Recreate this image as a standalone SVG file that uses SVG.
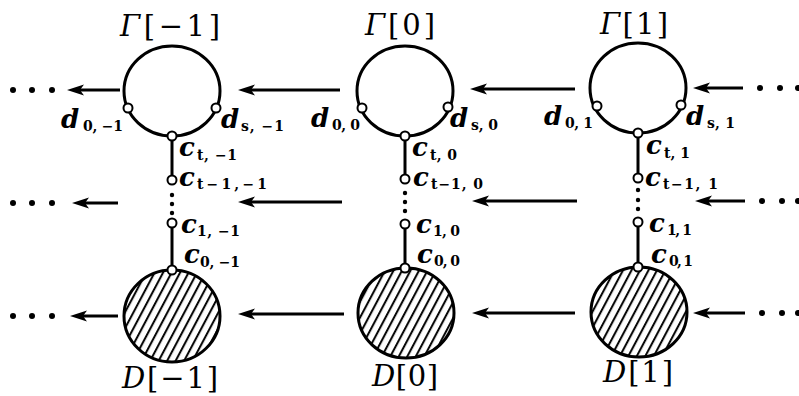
<svg xmlns="http://www.w3.org/2000/svg" width="799" height="396" viewBox="0 0 799 396">
<style>
.ring{fill:none;stroke:#000;stroke-width:3}
.disk{fill:url(#hatch);stroke:#000;stroke-width:3}
.pt{fill:#fff;stroke:#000;stroke-width:2}
.ln{stroke:#000;stroke-width:3;fill:none}
.ar{stroke:#000;stroke-width:3;fill:none;marker-end:url(#ah)}
.dot{fill:#000}
.m{font-family:"DejaVu Serif",serif;font-style:italic;font-weight:bold;font-size:26px;fill:#000}
.s{font-family:"DejaVu Serif",serif;font-weight:bold;font-size:14px;fill:#000}
.g{font-family:"DejaVu Serif",serif;font-size:29px;fill:#000}
.g .i{font-style:italic}
</style>
<defs>
<pattern id="hatch" patternUnits="userSpaceOnUse" width="7.5" height="10" patternTransform="rotate(28)">
<line x1="2" y1="-1" x2="2" y2="11" stroke="#000" stroke-width="2"/>
</pattern>
<marker id="ah" markerUnits="userSpaceOnUse" markerWidth="17" markerHeight="12" viewBox="0 -6 17 12" refX="6" refY="0" orient="auto">
<path d="M17,0 L0,-5.5 L4,0 L0,5.5 Z" fill="#000"/>
</marker>
</defs>

<g id="connectors">
<line class="ar" x1="120" y1="90" x2="78" y2="90"/>
<line class="ar" x1="340" y1="90" x2="249" y2="90"/>
<line class="ar" x1="575" y1="89" x2="481" y2="89"/>
<line class="ar" x1="743" y1="88" x2="704" y2="88"/>
<line class="ar" x1="118" y1="203" x2="83" y2="203"/>
<line class="ar" x1="342" y1="202" x2="249" y2="202"/>
<line class="ar" x1="577" y1="201" x2="483" y2="201"/>
<line class="ar" x1="745" y1="201" x2="706" y2="201"/>
<line class="ar" x1="118" y1="316" x2="81" y2="316"/>
<line class="ar" x1="344" y1="314" x2="249" y2="314"/>
<line class="ar" x1="575" y1="313" x2="483" y2="313"/>
<line class="ar" x1="745" y1="313" x2="704" y2="313"/>
<circle class="dot" cx="13" cy="90" r="3"/><circle class="dot" cx="32" cy="90" r="3"/><circle class="dot" cx="52" cy="90" r="3"/>
<circle class="dot" cx="13" cy="203" r="3"/><circle class="dot" cx="32" cy="203" r="3"/><circle class="dot" cx="52" cy="203" r="3"/>
<circle class="dot" cx="13" cy="316" r="3"/><circle class="dot" cx="32" cy="316" r="3"/><circle class="dot" cx="52" cy="316" r="3"/>
<circle class="dot" cx="760" cy="88" r="3"/><circle class="dot" cx="780" cy="88" r="3"/><circle class="dot" cx="798" cy="88" r="3"/>
<circle class="dot" cx="762" cy="201" r="3"/><circle class="dot" cx="782" cy="201" r="3"/><circle class="dot" cx="798" cy="201" r="3"/>
<circle class="dot" cx="762" cy="313" r="3"/><circle class="dot" cx="782" cy="313" r="3"/><circle class="dot" cx="798" cy="313" r="3"/>
<line class="ln" x1="172" y1="136" x2="172" y2="180"/>
<circle class="dot" cx="172" cy="195" r="2.2"/><circle class="dot" cx="172" cy="204" r="2.2"/><circle class="dot" cx="172" cy="213" r="2.2"/>
<line class="ln" x1="172" y1="223" x2="172" y2="270"/>
<line class="ln" x1="405" y1="136" x2="405" y2="179"/>
<circle class="dot" cx="405" cy="193" r="2.2"/><circle class="dot" cx="405" cy="202" r="2.2"/><circle class="dot" cx="405" cy="211" r="2.2"/>
<line class="ln" x1="405" y1="224" x2="405" y2="268"/>
<line class="ln" x1="638" y1="133" x2="638" y2="178"/>
<circle class="dot" cx="638" cy="190" r="2.2"/><circle class="dot" cx="638" cy="200" r="2.2"/><circle class="dot" cx="638" cy="209" r="2.2"/>
<line class="ln" x1="638" y1="222" x2="638" y2="267"/>
</g>

<g id="gamma-m1">
<ellipse class="ring" cx="172" cy="91" rx="48" ry="45"/>
<text class="g" x="120" y="36" textLength="100" lengthAdjust="spacing"><tspan class="i">Γ</tspan>[−1]</text>
</g>
<g id="disk-m1">
<ellipse class="disk" cx="172" cy="316" rx="48" ry="46"/>
<text class="g" x="122" y="388" textLength="96" lengthAdjust="spacing"><tspan class="i">D</tspan>[−1]</text>
</g>
<g id="d0-m1"><circle class="pt" cx="128" cy="108" r="4.5"/><text class="m" x="61" y="128">d</text><text class="s" x="83" y="131" textLength="40" lengthAdjust="spacing">0, −1</text></g>
<g id="ds-m1"><circle class="pt" cx="216" cy="108" r="4.5"/><text class="m" x="221" y="128">d</text><text class="s" x="241" y="131" textLength="43" lengthAdjust="spacing">s, −1</text></g>
<g id="ct-m1"><circle class="pt" cx="172" cy="136" r="4.5"/><text class="m" x="179" y="156">c</text><text class="s" x="197" y="160" textLength="40" lengthAdjust="spacing">t, −1</text></g>
<g id="ct1-m1"><circle class="pt" cx="172" cy="180" r="4.5"/><text class="m" x="179" y="186">c</text><text class="s" x="197" y="189" textLength="70" lengthAdjust="spacing">t−1,−1</text></g>
<g id="c1-m1"><circle class="pt" cx="172" cy="223" r="4.5"/><text class="m" x="181" y="233">c</text><text class="s" x="197" y="236" textLength="43" lengthAdjust="spacing">1, −1</text></g>
<g id="c0-m1"><circle class="pt" cx="172" cy="270" r="4.5"/><text class="m" x="184" y="263">c</text><text class="s" x="200" y="267" textLength="40" lengthAdjust="spacing">0, −1</text></g>

<g id="gamma-0">
<ellipse class="ring" cx="405" cy="91" rx="48" ry="45"/>
<text class="g" x="365" y="35" textLength="70" lengthAdjust="spacing"><tspan class="i">Γ</tspan>[0]</text>
</g>
<g id="disk-0">
<ellipse class="disk" cx="406" cy="313" rx="48" ry="45"/>
<text class="g" x="372" y="386" textLength="66" lengthAdjust="spacing"><tspan class="i">D</tspan>[0]</text>
</g>
<g id="d0-0"><circle class="pt" cx="362" cy="108" r="4.5"/><text class="m" x="311" y="127">d</text><text class="s" x="332" y="130" textLength="28" lengthAdjust="spacing">0, 0</text></g>
<g id="ds-0"><circle class="pt" cx="448" cy="107" r="4.5"/><text class="m" x="450" y="127">d</text><text class="s" x="471" y="130" textLength="27" lengthAdjust="spacing">s, 0</text></g>
<g id="ct-0"><circle class="pt" cx="405" cy="136" r="4.5"/><text class="m" x="412" y="156">c</text><text class="s" x="430" y="160" textLength="27" lengthAdjust="spacing">t, 0</text></g>
<g id="ct1-0"><circle class="pt" cx="405" cy="179" r="4.5"/><text class="m" x="413" y="186">c</text><text class="s" x="431" y="189" textLength="52" lengthAdjust="spacing">t−1, 0</text></g>
<g id="c1-0"><circle class="pt" cx="405" cy="224" r="4.5"/><text class="m" x="416" y="233">c</text><text class="s" x="433" y="236" textLength="27" lengthAdjust="spacing">1, 0</text></g>
<g id="c0-0"><circle class="pt" cx="405" cy="268" r="4.5"/><text class="m" x="417" y="263">c</text><text class="s" x="434" y="266" textLength="26" lengthAdjust="spacing">0, 0</text></g>

<g id="gamma-1">
<ellipse class="ring" cx="638" cy="88" rx="48" ry="45"/>
<text class="g" x="600" y="34" textLength="68" lengthAdjust="spacing"><tspan class="i">Γ</tspan>[1]</text>
</g>
<g id="disk-1">
<ellipse class="disk" cx="639" cy="312" rx="48" ry="45"/>
<text class="g" x="603" y="382" textLength="70" lengthAdjust="spacing"><tspan class="i">D</tspan>[1]</text>
</g>
<g id="d0-1"><circle class="pt" cx="597" cy="106" r="4.5"/><text class="m" x="544" y="125">d</text><text class="s" x="565" y="128" textLength="28" lengthAdjust="spacing">0, 1</text></g>
<g id="ds-1"><circle class="pt" cx="681" cy="105" r="4.5"/><text class="m" x="686" y="125">d</text><text class="s" x="707" y="128" textLength="28" lengthAdjust="spacing">s, 1</text></g>
<g id="ct-1"><circle class="pt" cx="638" cy="133" r="4.5"/><text class="m" x="646" y="154">c</text><text class="s" x="664" y="158" textLength="26" lengthAdjust="spacing">t, 1</text></g>
<g id="ct1-1"><circle class="pt" cx="638" cy="178" r="4.5"/><text class="m" x="645" y="186">c</text><text class="s" x="663" y="189" textLength="55" lengthAdjust="spacing">t−1, 1</text></g>
<g id="c1-1"><circle class="pt" cx="638" cy="222" r="4.5"/><text class="m" x="649" y="232">c</text><text class="s" x="667" y="235" textLength="25" lengthAdjust="spacing">1, 1</text></g>
<g id="c0-1"><circle class="pt" cx="638" cy="267" r="4.5"/><text class="m" x="651" y="263">c</text><text class="s" x="669" y="266" textLength="24" lengthAdjust="spacing">0, 1</text></g>
</svg>
